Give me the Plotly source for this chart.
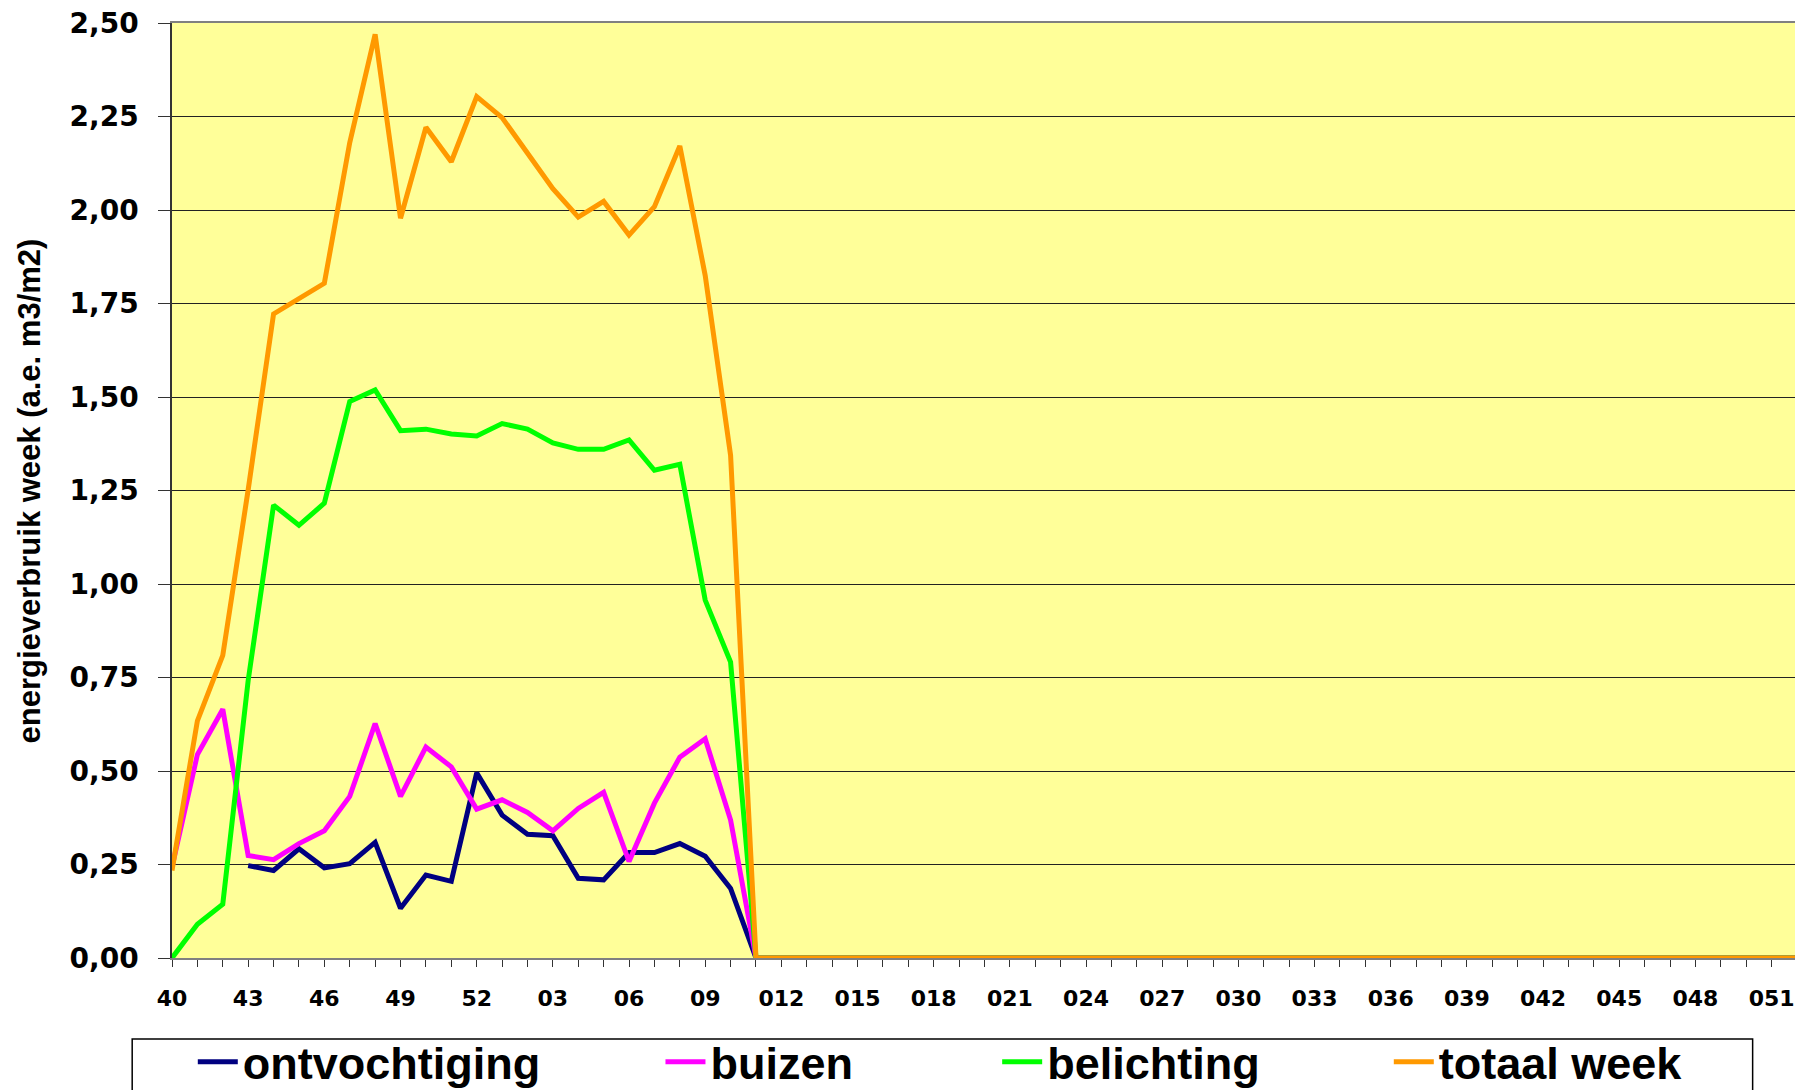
import plotly.graph_objects as go

weeks = ([str(w) for w in range(40, 53)]
         + ["%02d" % w for w in range(1, 12)]
         + ["0%d" % w for w in range(12, 53)])

ontvochtiging = [None, None, None, 0.247, 0.234, 0.292, 0.241, 0.252, 0.309, 0.133,
                 0.222, 0.205, 0.495, 0.382, 0.331, 0.327, 0.213, 0.209, 0.282, 0.282,
                 0.306, 0.272, 0.186, 0.0] + [0.0] * 41
buizen = [0.243, 0.544, 0.665, 0.274, 0.263, 0.306, 0.340, 0.432, 0.627, 0.432,
          0.564, 0.511, 0.398, 0.423, 0.389, 0.340, 0.400, 0.443, 0.258, 0.414,
          0.537, 0.586, 0.369, 0.0] + [0.0] * 41
belichting = [0.0, 0.090, 0.144, 0.742, 1.211, 1.157, 1.216, 1.488, 1.519, 1.410,
              1.414, 1.401, 1.396, 1.429, 1.414, 1.377, 1.360, 1.360, 1.385, 1.304,
              1.320, 0.957, 0.791, 0.0] + [0.0] * 41
totaal_week = [0.234, 0.634, 0.809, 1.252, 1.722, 1.762, 1.804, 2.180, 2.470, 1.978,
               2.221, 2.129, 2.303, 2.247, 2.151, 2.057, 1.981, 2.023, 1.933, 2.009,
               2.171, 1.825, 1.344, 0.0] + [0.0] * 41

series = [
    ("ontvochtiging", ontvochtiging, "#000080", "legend", 0.0128),
    ("buizen", buizen, "#FF00FF", "legend2", 0.3006),
    ("belichting", belichting, "#00FF00", "legend3", 0.5078),
    ("totaal week", totaal_week, "#FF9900", "legend4", 0.7488),
]

W, H = 1803, 1090
M_TOP, M_LEFT, M_RIGHT = 15, 164, 14
paper_h = H - M_TOP
y_bottom = (H - 950) / paper_h   # x axis line sits 950 px down the figure

fig = go.Figure()
for name, vals, color, leg, _ in series:
    fig.add_trace(go.Scatter(
        x=weeks, y=vals, name=name, mode="lines",
        line=dict(color=color, width=5),
        legend=leg,
    ))

legend_font = dict(family="Liberation Sans, Arial, sans-serif", size=45,
                   color="black", weight="bold")
legends = {}
for name, vals, color, leg, lx in series:
    legends[leg] = dict(
        x=lx, y=0, xanchor="left", yanchor="bottom",
        orientation="h", font=legend_font, bgcolor="rgba(0,0,0,0)",
        itemwidth=40,
    )

fig.update_layout(
    width=W, height=H,
    margin=dict(l=M_LEFT, r=M_RIGHT, t=M_TOP, b=0),
    paper_bgcolor="white",
    plot_bgcolor="#FFFF99",
    separators=", ",
    showlegend=True,
    **legends,
)

fig.update_xaxes(
    type="category",
    range=[0, len(weeks) - 1],
    tickmode="array",
    tickvals=weeks,
    ticktext=[w if i % 3 == 0 else "" for i, w in enumerate(weeks)],
    ticks="outside", ticklen=7, tickcolor="#333", tickwidth=1,
    tickfont=dict(family="DejaVu Sans", size=22, color="black", weight="bold"),
    ticklabelstandoff=13,
    ticklabeloverflow="allow",
    tickangle=0,
    showgrid=False,
    automargin=False,
    showline=True, linecolor="#808080", linewidth=1.5, mirror=True,
)

fig.update_yaxes(
    domain=[y_bottom, 1],
    range=[0, 2.5],
    tickvals=[0, 0.25, 0.5, 0.75, 1.0, 1.25, 1.5, 1.75, 2.0, 2.25, 2.5],
    tickformat=".2f",
    ticks="outside", ticklen=12, tickcolor="#333", tickwidth=1,
    tickfont=dict(family="DejaVu Sans", size=28, color="black", weight="bold"),
    ticklabelstandoff=14,
    ticklabeloverflow="allow",
    showgrid=True, gridcolor="#222", gridwidth=1,
    zeroline=False,
    automargin=False,
    showline=True, linecolor="#333", linewidth=1.5, mirror=True,
)

# y axis title
fig.add_annotation(
    text="energieverbruik week (a.e. m3/m2)",
    xref="paper", yref="paper", x=-0.0874, y=(y_bottom + 1) / 2,
    xanchor="center", yanchor="middle", textangle=-90, showarrow=False,
    font=dict(family="Liberation Sans, Arial", size=31, color="black", weight="bold"),
)

# legend frame
fig.add_shape(
    type="rect", xref="paper", yref="paper",
    x0=-0.0245, x1=0.9727, y0=(H - 1031) / paper_h, y1=-0.05,
    line=dict(color="black", width=1.5), fillcolor="rgba(0,0,0,0)",
    layer="below",
)

fig.write_html("out.html")
